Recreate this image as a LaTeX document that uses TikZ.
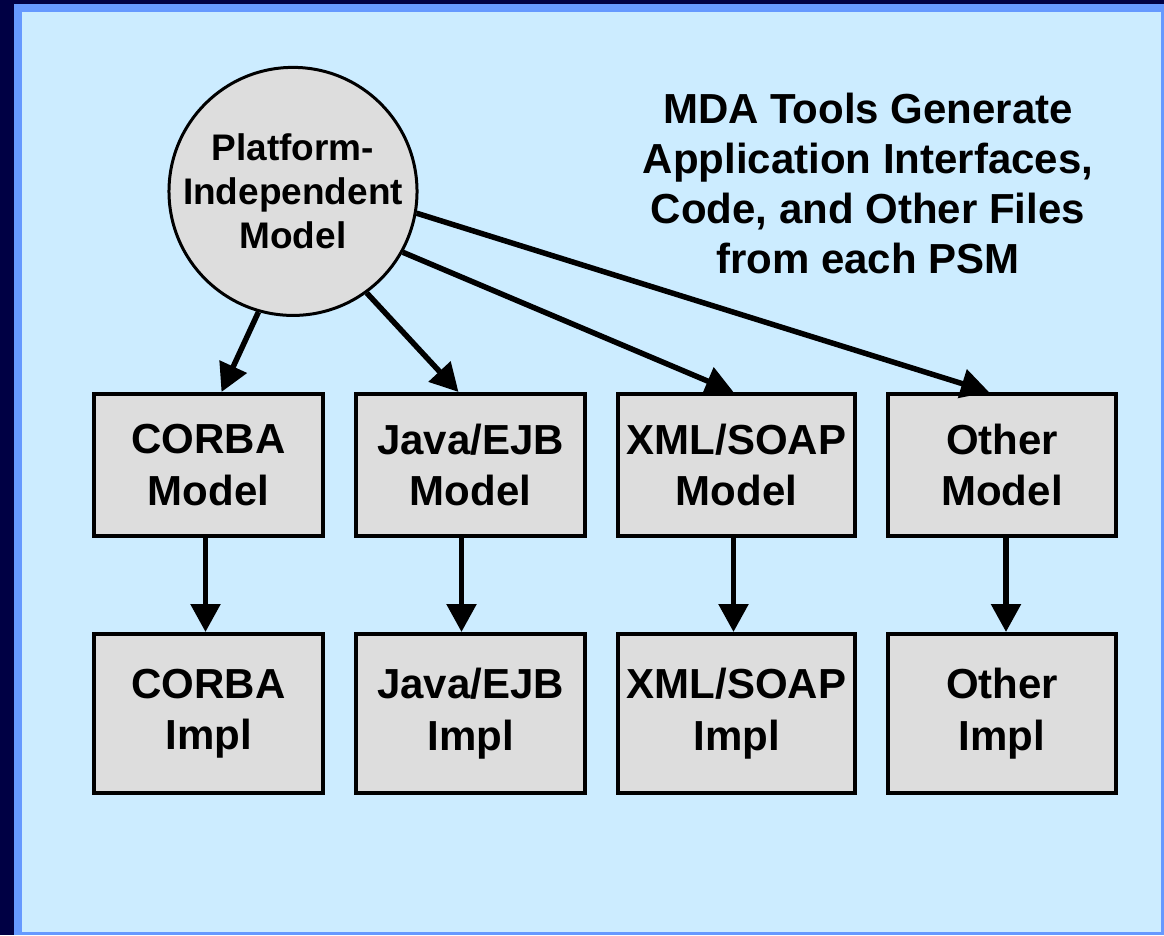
\documentclass[tikz,border=0pt]{standalone}
\usepackage{fontspec}
\setmainfont{Liberation Sans}
\usetikzlibrary{positioning,arrows.meta}

\definecolor{navy}{RGB}{0,0,68}
\definecolor{frameblue}{RGB}{102,153,255}
\definecolor{panel}{RGB}{204,236,255}
\definecolor{boxgray}{RGB}{221,221,221}

\begin{document}
\begin{tikzpicture}[x=1pt, y=1pt,
    model/.style={draw, line width=4pt, fill=boxgray, align=center, inner sep=0pt,
      minimum height=142pt, font=\fontsize{42}{51.5}\selectfont\bfseries},
    impl/.style={model, minimum height=159pt},
    pim/.style={circle, draw, line width=3pt, fill=boxgray, align=center, inner sep=0pt,
      minimum size=238pt, font=\fontsize{37}{44}\selectfont\bfseries},
    gen/.style={line width=5.5pt, -{Triangle[length=28pt,width=29pt]}}
  ]
  \fill[navy] (0,0) rectangle (1164,-935);
  \fill[frameblue] (14,-4) rectangle (1164,-935);
  \fill[panel] (22,-12) rectangle (1161,-932);

  \node[pim] (pim) at (293,-191.4) {Platform-\\Independent\\Model};
  \node[anchor=north, align=center, inner sep=0pt,
    font=\fontsize{42}{50}\selectfont\bfseries] (note) at (868,-93)
    {MDA Tools Generate\\Application Interfaces,\\Code, and Other Files\\from each PSM};

  \node[model, minimum width=229pt] (corbam) at (208.5,-465) {CORBA\\Model};
  \node[model, minimum width=229pt, right=29pt of corbam] (javam) {Java/EJB\\Model};
  \node[model, minimum width=237pt, right=29pt of javam] (xmlm) {XML/SOAP\\Model};
  \node[model, minimum width=228pt, right=29pt of xmlm] (otherm) {Other\\Model};

  \node[impl, minimum width=229pt, below=94pt of corbam] (corbai) {CORBA\\Impl};
  \node[impl, minimum width=229pt, below=94pt of javam] (javai) {Java/EJB\\Impl};
  \node[impl, minimum width=237pt, below=94pt of xmlm] (xmli) {XML/SOAP\\Impl};
  \node[impl, minimum width=228pt, below=94pt of otherm] (otheri) {Other\\Impl};

  \draw[gen] (pim.254) -- ([xshift=13pt]corbam.north);
  \draw[gen] (pim.306) -- ([xshift=-12pt]javam.north);
  \draw[gen] (pim.331) -- ([xshift=-3pt]xmlm.north);
  \draw[gen] (pim.350) -- ([xshift=-13pt]otherm.north);

  \draw[gen] ([xshift=-3pt]corbam.south) -- ([xshift=-3pt]corbai.north);
  \draw[gen] ([xshift=-9pt]javam.south) -- ([xshift=-9pt]javai.north);
  \draw[gen] ([xshift=-3pt]xmlm.south) -- ([xshift=-3pt]xmli.north);
  \draw[gen] ([xshift=4pt]otherm.south) -- ([xshift=4pt]otheri.north);
\end{tikzpicture}
\end{document}
